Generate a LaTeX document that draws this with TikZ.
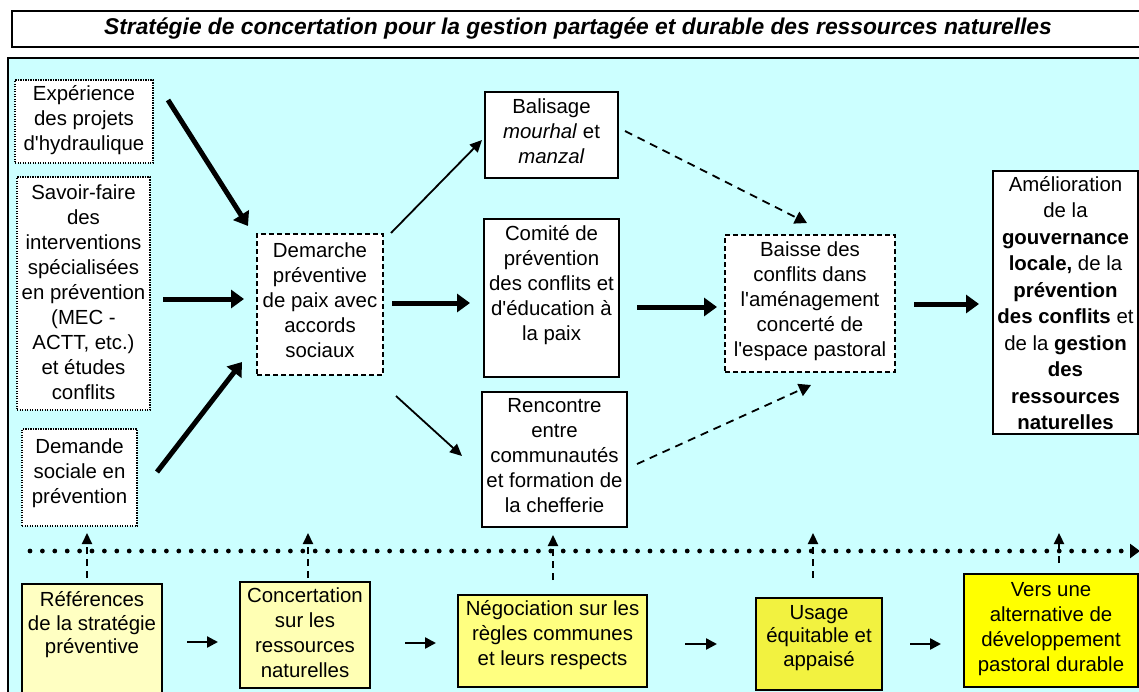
\documentclass[tikz,border=0pt]{standalone}
\usepackage{fontspec}
\setmainfont{Liberation Sans}
\usetikzlibrary{arrows.meta,calc}
\definecolor{bgcyan}{HTML}{CCFFFF}
\definecolor{yA}{HTML}{FFFFC2}
\definecolor{yB}{HTML}{FFFFB4}
\definecolor{yC}{HTML}{FFFF80}
\definecolor{yD}{HTML}{F2F240}
\definecolor{yE}{HTML}{FFFF00}
\newcommand\ap{\textquotesingle}
\newcommand\bxt[5][25]{\parbox[c][#3pt][t]{#2pt}{\fontsize{20.4}{#1}\selectfont\centering\vspace*{#4pt}\strut #5}}
\begin{document}
\begin{tikzpicture}[x=1pt,y=-1pt,
  every node/.style={inner sep=0pt, outer sep=0pt},
  dotbox/.style={draw, fill=white, line width=1.1pt, dash pattern=on 1.2pt off 1.3pt, anchor=north west},
  dashbox/.style={draw, fill=white, line width=1.5pt, dash pattern=on 5pt off 3pt, anchor=north west},
  solidbox/.style={draw, fill=white, line width=1.5pt, anchor=north west},
  ybox/.style={draw, line width=1.5pt, anchor=north west, fill=#1},
  thickarr/.style={line width=5pt, -{Triangle[length=13pt,width=18pt]}},
  thinarr/.style={line width=1.8pt, -{Triangle[length=12pt,width=11pt]}},
  dasharr/.style={line width=1.8pt, dash pattern=on 8pt off 6pt, -{Triangle[length=12pt,width=13pt]}},
  uparr/.style={line width=2.2pt, dash pattern=on 7pt off 5pt, -{Triangle[length=11pt,width=10pt]}},
  smallarr/.style={line width=2.4pt, -{Triangle[length=11pt,width=11pt]}},
  dotline/.style={line width=4.8pt, dash pattern=on 0pt off 12.4pt, line cap=round, -{Triangle[length=10pt,width=14pt]}}
]
\useasboundingbox (0,0) rectangle (1139,691);
\clip (0,0) rectangle (1139,691);
\fill[white] (0,0) rectangle (1139,691);

% title
\node[draw, fill=white, line width=1.3pt, anchor=north west, minimum width=1132pt, minimum height=36pt,
  font=\fontsize{22.8}{26}\selectfont\bfseries\itshape] (title) at (12,11)
  {Stratégie de concertation pour la gestion partagée et durable des ressources naturelles};

% main panel
\draw[line width=1.3pt, fill=bgcyan] (8,58) rectangle (1160,710);

% left boxes
\node[dotbox] (exp) at (15,80) {\bxt{138}{83}{2.5}{Expérience\\des projets\\d\ap hydraulique}};
\node[dotbox] (sav) at (17,177) {\bxt{133}{233}{4.5}{Savoir-faire\\des\\interventions\\spécialisées\\en prévention\\(MEC -\\ACTT, etc.)\\et études\\conflits}};
\node[dotbox] (dman) at (22,429) {\bxt{115}{97}{6.5}{Demande\\sociale en\\prévention}};

% central
\node[dashbox] (dem) at (257,234) {\bxt{126}{141}{5.5}{Demarche\\préventive\\de paix avec\\accords\\sociaux}};
\node[solidbox] (bal) at (485,92) {\bxt{133}{86}{4}{Balisage\\\textit{mourhal} et\\\textit{manzal}}};
\node[solidbox] (com) at (484,219) {\bxt{135}{158}{4}{Comité de\\prévention\\des conflits et\\d\ap éducation à\\la paix}};
\node[solidbox] (ren) at (482,392) {\bxt{145}{135}{3}{Rencontre\\entre\\communautés\\et formation de\\la chefferie}};
\node[dashbox] (bai) at (725,235) {\bxt{170}{137}{4}{Baisse des\\conflits dans\\l\ap aménagement\\concerté de\\l\ap espace pastoral}};
\node[solidbox] (ame) at (993,171) {\bxt[26.5]{145}{263}{1.5}{Amélioration\\de la\\\textbf{gouvernance}\\\textbf{locale,} de la\\\textbf{prévention}\\\textbf{des conflits} et\\de la \textbf{gestion}\\\textbf{des}\\\textbf{ressources}\\\textbf{naturelles}}};

% bottom boxes
\node[ybox=yA] (ref) at (22,584) {\bxt[23.5]{140}{112}{6.5}{Références\\de la stratégie\\préventive}};
\node[ybox=yB] (conc) at (240,582) {\bxt{130}{106}{2.5}{Concertation\\sur les\\ressources\\naturelles}};
\node[ybox=yC] (neg) at (458,595) {\bxt{189}{92}{3}{Négociation sur les\\règles communes\\et leurs respects}};
\node[ybox=yD] (usg) at (756,598) {\bxt[23.5]{126}{92}{5}{Usage\\équitable et\\appaisé}};
\node[ybox=yE] (vers) at (964,574) {\bxt{174}{113}{4.5}{Vers une\\alternative de\\développement\\pastoral durable}};

% top connectors
\draw[thickarr] ($(exp.north east)+(15,20)$) -- ($(dem.north west)+(-9,-8)$);
\coordinate (ys) at (0,299);
\draw[thickarr, shorten <=13pt, shorten >=13pt] (sav.east |- ys) -- (dem.west |- ys);
\draw[thickarr] ($(dman.north east)+(20,43)$) -- ($(dem.south west)+(-15,-13)$);
\draw[thinarr] ($(dem.north east)+(8,-1)$) -- ($(bal.west)+(-3,5)$);
\coordinate (yc) at (0,303);
\draw[thickarr, shorten <=9pt, shorten >=14pt] (dem.east |- yc) -- (com.west |- yc);
\draw[thinarr] ($(dem.south east)+(13,21)$) -- ($(ren.west)+(-20,-3.5)$);
\draw[dasharr] ($(bal.east)+(7,-4)$) -- ($(bai.north)+(-3,-12)$);
\coordinate (yb) at (0,307);
\draw[thickarr, shorten <=18pt, shorten >=8pt] (com.east |- yb) -- (bai.west |- yb);
\draw[dasharr] ($(ren.east)+(10,4.5)$) -- ($(bai.south)+(1,13)$);
\coordinate (ya) at (0,304);
\draw[thickarr, shorten <=19pt, shorten >=14pt] (bai.east |- ya) -- (ame.west |- ya);

% dotted time line
\coordinate (dotS) at (30,551);
\coordinate (dotE) at (1140,551);
\draw[dotline] (dotS) -- (dotE);

% up arrows
\coordinate (u1) at (87,533);
\coordinate (u2) at (308,533);
\coordinate (u3) at (553,535);
\coordinate (u4) at (813,533);
\coordinate (u5) at (1059,533);
\draw[uparr, shorten <=6pt] (ref.north -| u1) -- (u1);
\draw[uparr, shorten <=4pt] (conc.north -| u2) -- (u2);
\draw[uparr, shorten <=15pt] (neg.north -| u3) -- (u3);
\draw[uparr, shorten <=20pt] (usg.north -| u4) -- (u4);
\draw[uparr, shorten <=11pt] (vers.north -| u5) -- (u5);

% bottom horizontal arrows
\coordinate (h1) at (0,642);
\coordinate (h2) at (0,643);
\coordinate (h3) at (0,644);
\draw[smallarr, shorten <=25pt, shorten >=22pt] (ref.east |- h1) -- (conc.west |- h1);
\draw[smallarr, shorten <=35pt, shorten >=22pt] (conc.east |- h2) -- (neg.west |- h2);
\draw[smallarr, shorten <=38pt, shorten >=39pt] (neg.east |- h3) -- (usg.west |- h3);
\draw[smallarr, shorten <=28pt, shorten >=23pt] (usg.east |- h3) -- (vers.west |- h3);
\end{tikzpicture}
\end{document}
